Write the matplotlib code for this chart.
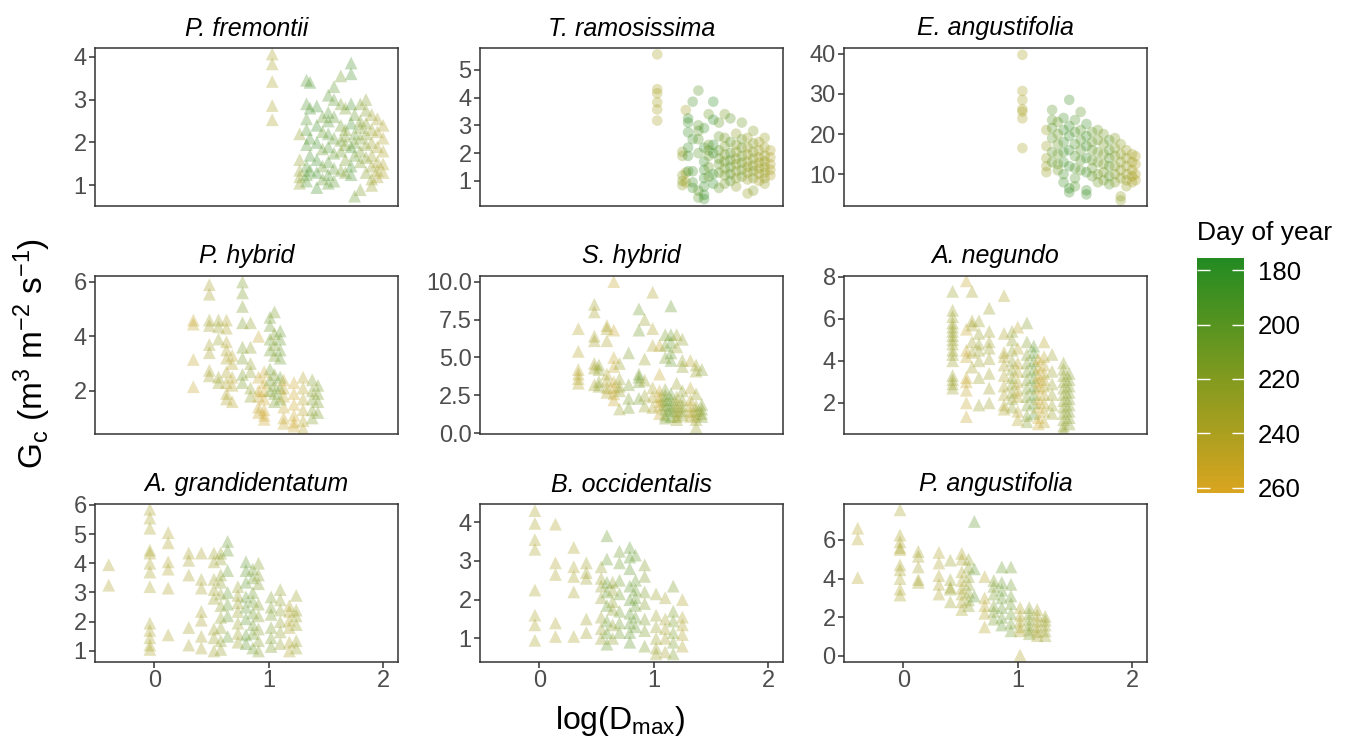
import matplotlib
matplotlib.use("Agg")
import matplotlib.pyplot as plt
from matplotlib.colors import LinearSegmentedColormap, Normalize
from matplotlib.cm import ScalarMappable

plt.rcParams["font.family"] = ["Liberation Sans", "DejaVu Sans"]
plt.rcParams["mathtext.fontset"] = "custom"
plt.rcParams["mathtext.rm"] = "Liberation Sans"
plt.rcParams["mathtext.it"] = "Liberation Sans:italic"

# data: one entry per day (column of points)
# x = log(Dmax) of the day, doy = day of year, y = Gc of the trees on that day
fre_x = [1.03, 1.27, 1.33, 1.36, 1.42, 1.47, 1.52, 1.57, 1.63, 1.67, 1.72, 1.75, 1.80, 1.85, 1.90, 1.95, 2.00]
fre_doy = [238, 225, 195, 190, 185, 205, 195, 200, 210, 215, 190, 205, 215, 220, 230, 235, 240]
fre_y = [[4.06, 3.83, 3.42, 2.86, 2.53], [2.2, 1.6, 1.35, 1.2, 1.05],
         [3.45, 2.9, 2.55, 2.3, 1.95, 1.45, 1.25, 1.1], [3.4, 2.8, 2.1, 1.7, 1.35],
         [2.85, 2.4, 2.0, 1.6, 1.3, 0.95], [2.6, 2.25, 1.85, 1.45, 1.15],
         [3.1, 2.7, 2.5, 2.2, 1.9, 1.55, 1.25, 1.05], [3.3, 3.0, 2.6, 2.1, 1.75, 1.4, 1.1],
         [3.55, 2.9, 2.4, 2.05, 1.8, 1.35], [2.8, 2.3, 2.15, 1.95, 1.6, 1.3],
         [3.85, 3.6, 2.9, 2.45, 1.9, 1.45, 1.25], [2.65, 2.2, 2.0, 1.7, 0.75],
         [2.9, 2.5, 2.35, 2.1, 1.8, 1.55, 0.9], [3.0, 2.75, 2.45, 2.2, 1.95, 1.65, 1.3],
         [2.65, 2.3, 2.0, 1.7, 1.45, 1.15, 1.0], [2.55, 2.25, 1.9, 1.55, 1.35, 1.2],
         [2.4, 2.1, 1.8, 1.5, 1.3]]

ram_x = [1.03, 1.25, 1.28, 1.30, 1.34, 1.39, 1.44, 1.48, 1.52, 1.57, 1.62, 1.67, 1.72, 1.77, 1.82, 1.87, 1.92, 1.97, 2.02]
ram_doy = [238, 225, 235, 185, 190, 200, 185, 210, 180, 205, 215, 200, 225, 210, 230, 220, 235, 230, 240]
ram_y = [[5.55, 4.3, 4.15, 3.83, 3.57, 3.17], [2.05, 1.9, 1.2, 1.0, 0.85], [3.55, 1.3, 0.95],
         [3.25, 3.1, 2.75, 2.2, 1.9, 1.35], [3.85, 2.5, 1.35, 0.95, 0.75],
         [4.25, 3.0, 2.8, 2.5, 2.0, 0.65, 0.4], [2.9, 2.2, 1.7, 1.4, 1.1, 0.8, 0.5, 0.35],
         [3.4, 2.3, 2.1, 1.9, 1.5, 1.15], [3.85, 3.2, 2.3, 2.0, 1.25, 0.9],
         [3.1, 2.6, 2.1, 1.8, 1.6, 1.3, 0.75], [3.4, 2.55, 2.25, 1.95, 1.7, 1.45, 1.2, 0.9],
         [3.25, 2.4, 2.0, 1.75, 1.5, 1.25, 1.0], [2.7, 2.3, 2.05, 1.8, 1.6, 1.35, 1.1, 0.8],
         [3.1, 2.5, 2.2, 1.9, 1.65, 1.4, 1.15], [2.55, 2.2, 1.95, 1.7, 1.5, 1.3, 1.05, 0.55],
         [2.8, 2.35, 2.05, 1.8, 1.55, 1.35, 1.1, 0.65], [2.4, 2.1, 1.85, 1.65, 1.45, 1.25, 1.0],
         [2.55, 2.2, 1.9, 1.7, 1.5, 1.3, 1.1, 0.9], [2.1, 1.85, 1.6, 1.4, 1.2]]

ela_x = [1.04, 1.25, 1.30, 1.35, 1.40, 1.45, 1.50, 1.55, 1.60, 1.65, 1.70, 1.75, 1.80, 1.85, 1.90, 1.95, 2.00, 2.03]
ela_doy = [238, 230, 200, 210, 190, 185, 195, 200, 185, 205, 210, 215, 200, 220, 225, 230, 235, 240]
ela_y = [[39.7, 30.7, 28.5, 26.2, 25.6, 23.9, 16.5], [21.0, 17.0, 14.0, 12.0, 10.5],
         [26.0, 23.5, 21.5, 19.0, 15.5, 13.0], [23.0, 20.0, 17.5, 15.0, 12.5, 11.0],
         [24.0, 21.0, 18.0, 15.5, 13.0, 10.0, 8.0], [28.5, 22.0, 19.5, 16.0, 12.0, 6.5, 5.5],
         [23.5, 20.5, 17.5, 14.5, 11.5, 9.0, 7.0], [25.5, 21.0, 18.5, 16.0, 13.5, 11.0],
         [22.5, 19.5, 17.0, 14.0, 10.5, 6.0, 5.0], [20.5, 18.0, 16.0, 13.5, 11.5, 9.5],
         [21.0, 18.5, 15.5, 13.0, 10.0, 8.0], [20.0, 17.5, 15.0, 12.5, 10.5, 8.5],
         [18.5, 16.0, 14.0, 12.0, 9.5, 7.5], [19.0, 16.5, 14.5, 12.0, 10.0, 8.0],
         [17.5, 15.0, 13.0, 11.0, 9.0, 4.5, 3.5], [16.0, 14.0, 12.0, 10.0, 8.5, 7.0],
         [15.0, 13.0, 11.0, 9.5, 8.0], [14.5, 12.5, 10.0, 8.5]]

phy_x = [0.34, 0.48, 0.56, 0.63, 0.68, 0.77, 0.84, 0.91, 0.96, 1.01, 1.05, 1.10, 1.13, 1.22, 1.30, 1.38, 1.43]
phy_doy = [250, 235, 230, 240, 245, 215, 225, 250, 255, 210, 215, 205, 250, 255, 245, 220, 215]
phy_y = [[4.6, 4.45, 3.15, 2.15], [5.9, 5.55, 4.6, 4.4, 3.7, 3.4, 2.75, 2.55],
         [4.6, 4.35, 3.9, 2.5, 2.3], [4.6, 4.3, 3.8, 3.5, 3.2, 2.7, 2.3, 1.9, 1.7],
         [3.3, 3.0, 2.5, 2.2, 1.6], [6.0, 5.6, 5.1, 4.5, 3.6, 3.2, 2.6, 2.3],
         [4.5, 3.6, 3.0, 2.7, 2.1, 1.8], [4.0, 2.5, 2.0, 1.8, 1.4, 1.2],
         [2.7, 2.3, 2.0, 1.7, 1.3, 1.1, 0.95], [4.7, 4.4, 3.9, 3.5, 2.8, 2.4, 2.0],
         [4.9, 4.1, 3.7, 3.3, 2.6, 2.2, 1.9, 1.6], [4.2, 3.9, 3.5, 3.2, 2.5, 2.1, 1.7],
         [2.4, 2.1, 1.8, 1.4, 1.0, 0.8], [2.3, 1.9, 1.5, 1.1, 0.85, 0.7],
         [2.5, 2.1, 1.7, 1.3, 0.9, 0.6], [2.4, 2.0, 1.7, 1.3, 1.0], [2.2, 1.9, 1.6, 1.2]]

shy_x = [0.34, 0.48, 0.52, 0.59, 0.65, 0.70, 0.78, 0.87, 0.92, 0.99, 1.05, 1.10, 1.15, 1.20, 1.25, 1.32, 1.37, 1.42]
shy_doy = [245, 235, 225, 240, 250, 230, 215, 210, 230, 240, 250, 215, 205, 230, 225, 245, 230, 220]
shy_y = [[6.9, 5.4, 4.2, 3.9, 3.6, 3.3], [8.5, 8.0, 6.4, 6.1, 4.6, 4.3, 3.2], [4.5, 4.2, 3.4, 3.1],
         [7.1, 6.9, 6.1, 3.9, 3.5, 3.0, 2.7], [10.0, 6.8, 5.0, 4.4, 3.4, 3.0, 2.6, 2.2],
         [4.6, 3.6, 3.1, 2.8, 1.6], [5.3, 3.2, 2.3, 1.7], [8.2, 6.8, 3.9, 3.7, 3.4, 2.3],
         [7.5, 4.9, 3.5, 2.5, 1.8], [9.3, 6.9, 5.8, 3.0, 2.4, 1.7],
         [5.8, 3.9, 2.8, 2.4, 2.1, 1.8, 1.3], [6.5, 5.8, 5.0, 2.9, 2.5, 2.2, 1.9, 1.6, 1.2, 1.0],
         [8.4, 6.5, 6.0, 5.3, 4.8, 2.6, 2.2, 1.8, 1.5, 1.1], [6.5, 5.7, 3.3, 2.4, 2.0, 1.7, 1.4, 1.1, 0.9],
         [6.2, 4.8, 4.4, 2.8, 2.2, 1.8, 1.5, 1.2], [4.8, 3.0, 2.2, 1.8, 1.4, 1.1],
         [4.5, 4.1, 2.6, 1.8, 1.5, 1.2, 0.9, 0.4], [4.2, 1.9, 1.6, 1.3, 1.1]]

neg_x = [0.43, 0.55, 0.60, 0.66, 0.75, 0.88, 0.95, 1.00, 1.08, 1.14, 1.18, 1.23, 1.30, 1.40, 1.45]
neg_doy = [230, 250, 235, 230, 232, 240, 225, 245, 220, 200, 255, 245, 230, 225, 220]
neg_y = [[7.3, 6.4, 6.1, 5.8, 5.6, 5.4, 5.2, 5.0, 4.8, 4.5, 4.3, 4.0, 3.3, 3.1, 2.9, 2.7],
         [7.8, 5.5, 4.5, 4.2, 3.2, 3.0, 2.6, 2.0, 1.35], [7.3, 5.9, 5.7, 4.9, 4.4, 3.7],
         [5.9, 5.3, 4.8, 4.5, 4.0, 3.2, 1.9], [6.5, 5.4, 4.9, 4.6, 4.1, 3.4, 2.7, 2.0],
         [7.1, 5.3, 4.4, 4.2, 3.8, 3.3, 2.8, 2.4, 1.9, 1.7],
         [5.4, 5.0, 4.5, 4.0, 3.6, 3.2, 2.9, 2.5, 2.2, 1.8],
         [5.6, 4.6, 3.9, 3.5, 3.0, 2.6, 2.3, 1.6, 1.2],
         [5.8, 4.9, 4.3, 3.9, 3.5, 3.1, 2.7, 2.3, 1.9, 1.4, 1.1],
         [4.7, 4.4, 4.0, 3.6, 3.2, 2.8, 2.4, 2.0, 1.5],
         [4.1, 3.7, 3.3, 3.0, 2.7, 2.2, 1.8, 1.3, 1.0],
         [4.9, 4.2, 3.8, 3.4, 3.1, 2.8, 2.4, 2.0, 1.6, 1.1],
         [4.3, 3.5, 2.9, 2.4, 1.9, 1.5],
         [3.9, 3.6, 3.3, 3.0, 2.7, 2.4, 2.1, 1.8, 1.5, 1.2, 0.9, 0.7],
         [3.4, 3.1, 2.8, 2.5, 2.2, 1.9, 1.6, 1.3, 1.0]]

gra_x = [-0.40, -0.04, 0.12, 0.30, 0.41, 0.52, 0.58, 0.64, 0.73, 0.80, 0.86, 0.91, 1.02, 1.10, 1.18, 1.24]
gra_doy = [240, 238, 240, 236, 235, 232, 225, 205, 230, 200, 210, 220, 215, 225, 240, 230]
gra_y = [[3.95, 3.25], [5.85, 5.55, 5.2, 4.45, 4.35, 4.0, 3.7, 3.2, 1.95, 1.7, 1.45, 1.2, 1.05],
         [5.05, 4.7, 4.05, 3.8, 3.15, 1.55], [4.35, 4.1, 3.6, 1.8, 1.2],
         [4.35, 3.45, 3.15, 2.35, 2.05, 1.5, 1.1], [4.35, 4.05, 3.45, 3.1, 2.8, 1.75, 1.45, 1.0],
         [4.35, 4.15, 3.6, 3.35, 2.95, 2.55, 2.15, 1.8, 1.35, 1.05],
         [4.75, 4.45, 3.75, 3.0, 2.6, 2.2, 1.5], [3.2, 2.9, 2.65, 2.35, 1.95, 1.6, 1.3],
         [4.05, 3.75, 3.35, 2.85, 2.5, 2.1, 1.55, 1.25], [3.8, 3.5, 3.0, 2.7, 2.3, 1.9, 1.6, 1.1],
         [4.0, 3.6, 3.3, 2.6, 2.2, 1.75, 1.35, 1.0], [2.85, 2.5, 2.25, 1.8, 1.45, 1.15],
         [3.1, 2.75, 2.4, 2.0, 1.65, 1.25], [2.55, 2.35, 2.05, 1.8, 1.3, 1.0],
         [2.9, 2.4, 2.2, 1.9, 1.35, 1.1]]

occ_x = [-0.04, 0.14, 0.30, 0.41, 0.54, 0.59, 0.64, 0.70, 0.79, 0.84, 0.92, 1.02, 1.10, 1.17, 1.25]
occ_doy = [238, 240, 238, 232, 228, 205, 225, 210, 200, 205, 215, 230, 235, 215, 240]
occ_y = [[4.3, 3.97, 3.55, 3.3, 2.25, 1.6, 1.35, 0.95], [3.95, 2.95, 2.65, 1.4, 1.05],
         [3.35, 2.85, 2.6, 2.2, 1.05], [2.95, 2.7, 2.55, 1.5, 1.15],
         [2.85, 2.55, 2.35, 2.05, 1.55, 1.25, 1.0], [3.65, 3.05, 2.45, 2.2, 1.85, 1.45, 1.15, 0.85],
         [2.45, 2.25, 1.95, 1.75, 1.35, 1.0], [3.25, 2.95, 2.5, 2.15, 1.7, 1.4, 1.15],
         [3.35, 3.1, 2.8, 2.35, 2.0, 1.65, 1.4, 1.15, 0.9], [3.15, 2.5, 2.25, 2.05, 1.85, 1.55, 1.3],
         [2.9, 2.6, 2.2, 1.9, 1.5, 1.2, 0.8], [2.15, 1.6, 1.3, 1.0, 0.75, 0.6],
         [2.05, 1.5, 1.25, 1.0, 0.65], [2.35, 1.7, 1.45, 1.15, 0.9, 0.6], [2.0, 1.55, 1.35, 1.1, 0.8]]

pan_x = [-0.40, -0.03, 0.13, 0.31, 0.41, 0.51, 0.57, 0.62, 0.71, 0.79, 0.86, 0.94, 1.02, 1.10, 1.17, 1.24]
pan_doy = [245, 238, 235, 240, 230, 238, 225, 200, 245, 215, 205, 210, 240, 220, 235, 230]
pan_y = [[6.6, 6.05, 4.05], [7.55, 6.25, 5.9, 5.6, 5.5, 4.7, 4.45, 4.0, 3.45, 3.15],
         [5.4, 5.15, 4.6, 3.95, 3.8], [5.35, 4.8, 4.15, 3.7, 3.2], [4.95, 3.95, 3.55, 3.45, 2.8],
         [5.3, 5.0, 4.35, 3.9, 3.5, 3.2, 2.8, 2.4], [5.0, 4.6, 4.1, 3.7, 3.3, 2.9, 2.6],
         [6.95, 4.5, 3.1], [4.1, 3.0, 2.6, 2.2, 1.5], [3.9, 3.6, 3.2, 2.6, 2.3, 1.9],
         [4.6, 3.8, 3.4, 3.0, 2.5, 2.0, 1.6], [4.6, 3.7, 3.1, 2.7, 2.2, 1.7, 1.3],
         [2.5, 2.1, 1.8, 1.5, 1.3, 0.05], [2.5, 2.2, 1.9, 1.6, 1.35, 1.15],
         [2.4, 2.1, 1.8, 1.5, 1.25, 1.05], [2.05, 1.85, 1.6, 1.3, 1.05]]

species = ["P. fremontii", "T. ramosissima", "E. angustifolia",
           "P. hybrid", "S. hybrid", "A. negundo",
           "A. grandidentatum", "B. occidentalis", "P. angustifolia"]
y_ticks = [[1, 2, 3, 4], [1, 2, 3, 4, 5], [10, 20, 30, 40],
           [2, 4, 6], [0, 2.5, 5, 7.5, 10], [2, 4, 6, 8],
           [1, 2, 3, 4, 5, 6], [1, 2, 3, 4], [0, 2, 4, 6]]
y_lims = [(0.52, 4.2), (0.1, 5.78), (2.1, 41.4),
          (0.41, 6.22), (-0.05, 10.37), (0.52, 8.03),
          (0.62, 6.03), (0.39, 4.47), (-0.31, 7.85)]
x_ticks = [0, 1, 2]

panel_data = [(fre_x, fre_doy, fre_y), (ram_x, ram_doy, ram_y), (ela_x, ela_doy, ela_y),
              (phy_x, phy_doy, phy_y), (shy_x, shy_doy, shy_y), (neg_x, neg_doy, neg_y),
              (gra_x, gra_doy, gra_y), (occ_x, occ_doy, occ_y), (pan_x, pan_doy, pan_y)]
circle_panels = {"T. ramosissima", "E. angustifolia"}

cmap = LinearSegmentedColormap.from_list("doy", ["#228B22", "#7F9A1F", "#DAA520"])
norm = Normalize(175.5, 262)

W, H = 1350, 746
fig = plt.figure(figsize=(W / 100, H / 100), dpi=100)

col_left = [95, 480, 844]
row_top = [48, 276, 504]
pw, ph = 303, 158

for i, name in enumerate(species):
    r, c = divmod(i, 3)
    ax = fig.add_axes([col_left[c] / W, 1 - (row_top[r] + ph) / H, pw / W, ph / H])
    cx, cd, cy = panel_data[i]
    xs, ys, cs = [], [], []
    for x, d, yy in zip(cx, cd, cy):
        xs += [x] * len(yy)
        ys += yy
        cs += [d] * len(yy)
    if name in circle_panels:
        ax.scatter(xs, ys, c=cs, cmap=cmap, norm=norm, marker="o", s=58,
                   alpha=0.3, linewidths=0)
    else:
        ax.scatter(xs, ys, c=cs, cmap=cmap, norm=norm, marker="^", s=85,
                   alpha=0.3, linewidths=0)
    ax.set_xlim(-0.52, 2.13)
    ax.set_ylim(*y_lims[i])
    ax.set_yticks(y_ticks[i])
    if name == "S. hybrid":
        ax.set_yticklabels([f"{t:.1f}" for t in y_ticks[i]])
    ax.set_xticks(x_ticks)
    for s in ax.spines.values():
        s.set_color("#333333")
        s.set_linewidth(1.1)
    ax.tick_params(axis="both", direction="out", length=4, width=1.1, color="#333333",
                   labelsize=17, labelcolor="#4D4D4D", pad=2)
    if r < 2:
        ax.tick_params(axis="x", bottom=False, labelbottom=False)
    ax.set_title(name, fontsize=18, style="italic", pad=9)

fig.text(32 / W, 1 - 353 / H, r"G$_\mathrm{c}$ (m$^3$ m$^{-2}$ s$^{-1}$)", rotation=90,
         ha="center", va="center", fontsize=24)
fig.text(620 / W, 1 - 721 / H, r"log(D$_\mathrm{max}$)", ha="center", va="center", fontsize=23)

# colour bar, 180 at the top
cax = fig.add_axes([1197 / W, 1 - 493 / H, 47 / W, 235 / H])
cb = fig.colorbar(ScalarMappable(norm=norm, cmap=cmap), cax=cax, ticks=[180, 200, 220, 240, 260])
cb.outline.set_visible(False)
cax.invert_yaxis()
cax.tick_params(left=True, right=True, direction="in", length=9, width=1, color="white",
                labelsize=18.5, labelcolor="black", pad=10)
fig.text(1197 / W, 1 - 233 / H, "Day of year", ha="left", va="center", fontsize=19)

fig.savefig("out.png", dpi=100)
